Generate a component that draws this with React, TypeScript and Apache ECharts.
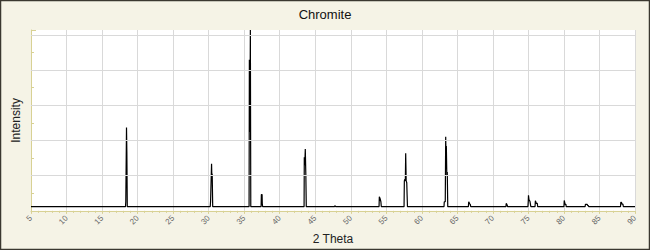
import React, { useEffect, useRef } from "react";
import * as echarts from "echarts";

const TITLE = "Chromite";
const X_NAME = "2 Theta";
const Y_NAME = "Intensity";

const X_MIN = 5;
const X_MAX = 90;
const X_STEP = 5;
const Y_MAX = 5140;
const Y_STEP = 1000;
const GRID_LINES = [1000, 2000, 3000, 4000, 5000];

// 2θ positions (degrees) of the trace points
const twoTheta = [
  5,
  18.30, 18.34, 18.40, 18.44, 18.49, 18.55,
  30.22, 30.27, 30.34, 30.41, 30.46, 30.50, 30.57,
  35.69, 35.73, 35.80, 35.87, 35.93,
  37.38, 37.42, 37.52, 37.55, 37.60,
  43.43, 43.46, 43.53, 43.60, 43.68, 43.74,
  47.72, 47.76, 47.84, 47.88,
  53.98, 54.02, 54.12, 54.24, 54.30,
  57.50, 57.54, 57.62, 57.68, 57.73, 57.80, 57.88, 57.93, 57.98,
  63.12, 63.16, 63.30, 63.36, 63.41, 63.45, 63.52, 63.58, 63.65,
  66.55, 66.60, 66.68, 66.74, 66.82, 66.88,
  71.84, 71.87, 71.95, 72.02, 72.06,
  74.93, 74.98, 75.01, 75.07, 75.14, 75.22, 75.30, 75.34,
  75.93, 75.98, 76.06, 76.12, 76.26, 76.30,
  80.00, 80.04, 80.10, 80.16, 80.28, 80.32,
  82.98, 83.02, 83.28, 83.34, 83.44, 83.48,
  87.96, 88.00, 88.10, 88.16, 88.30, 88.36,
  90,
];

// intensities (counts) matching twoTheta
const intensity = [
  118,
  118, 268, 268, 2372, 1676, 118,
  118, 268, 268, 1338, 900, 1056, 118,
  118, 4296, 2240, 5140, 118,
  118, 465, 465, 200, 118,
  118, 1527, 1300, 1761, 1000, 118,
  118, 146, 146, 118,
  118, 400, 352, 259, 118,
  118, 850, 900, 850, 1640, 850, 800, 445, 118,
  118, 259, 259, 2107, 1500, 1845, 1000, 1104, 118,
  118, 259, 259, 200, 183, 118,
  118, 211, 190, 160, 118,
  118, 280, 445, 332, 332, 268, 268, 118,
  118, 287, 287, 211, 211, 118,
  118, 296, 250, 183, 183, 118,
  118, 183, 183, 150, 150, 118,
  118, 240, 240, 190, 190, 118,
  118,
];

const FONT = "'Liberation Sans', Arial, sans-serif";
const AXIS_COLOR = "#d8d194";
const GRID_COLOR = "#d9d9d9";

export default function App() {
  const ref = useRef<HTMLDivElement>(null);

  useEffect(() => {
    if (!ref.current) return;
    const chart = echarts.init(ref.current, undefined, { renderer: "svg" });
    const data = twoTheta.map((x, i) => [x, intensity[i]]);

    chart.setOption({
      animation: false,
      backgroundColor: "#f5f3e6",
      title: {
        text: TITLE,
        left: "center",
        top: 3,
        textStyle: { fontFamily: FONT, fontSize: 13, fontWeight: "normal", color: "#111" },
      },
      grid: {
        left: 31,
        right: 15,
        top: 30,
        bottom: 37.5,
        show: true,
        backgroundColor: "#ffffff",
        borderWidth: 0,
      },
      xAxis: {
        type: "value",
        min: X_MIN,
        max: X_MAX,
        interval: X_STEP,
        name: X_NAME,
        nameLocation: "middle",
        nameGap: 18,
        nameTextStyle: { fontFamily: FONT, fontSize: 12, color: "#222" },
        axisLine: { show: true, onZero: false, lineStyle: { color: AXIS_COLOR, width: 1 } },
        axisTick: { show: true, length: 3, lineStyle: { color: AXIS_COLOR } },
        minorTick: { show: true, splitNumber: 5, length: 2, lineStyle: { color: AXIS_COLOR } },
        axisLabel: {
          rotate: 45,
          fontSize: 8,
          color: "#666",
          fontFamily: FONT,
          margin: 6,
          showMinLabel: true,
          showMaxLabel: true,
        },
        splitLine: { show: true, lineStyle: { color: GRID_COLOR, width: 1 } },
      },
      yAxis: {
        type: "value",
        min: 0,
        max: Y_MAX,
        interval: Y_STEP,
        name: Y_NAME,
        nameLocation: "middle",
        nameGap: 9,
        nameTextStyle: { fontFamily: FONT, fontSize: 12, color: "#222" },
        axisLine: { show: true, lineStyle: { color: AXIS_COLOR, width: 1 } },
        axisTick: { show: true, inside: true, length: 5, lineStyle: { color: AXIS_COLOR } },
        minorTick: { show: true, splitNumber: 2, length: 3, lineStyle: { color: AXIS_COLOR } },
        axisLabel: { show: false },
        splitLine: { show: false },
      },
      graphic: [
        {
          type: "rect",
          shape: { x: 0.5, y: 0.5, width: 649, height: 249 },
          style: { fill: "none", stroke: "#3a3830", lineWidth: 1.5 },
          silent: true,
        },
      ],
      series: [
        {
          type: "line",
          data: [],
          z: 1,
          silent: true,
          markLine: {
            silent: true,
            symbol: ["none", "none"],
            label: { show: false },
            lineStyle: { color: GRID_COLOR, type: "solid", width: 1 },
            data: GRID_LINES.map((v) => ({ yAxis: v })),
          },
        },
        {
          type: "line",
          data,
          z: 3,
          showSymbol: false,
          symbol: "none",
          lineStyle: { color: "#000", width: 1.2 },
          silent: true,
        },
      ],
    });

    return () => chart.dispose();
  }, []);

  return (
    <div
      ref={ref}
      style={{ position: "absolute", left: 0, top: 0, width: 650, height: 250 }}
    />
  );
}
